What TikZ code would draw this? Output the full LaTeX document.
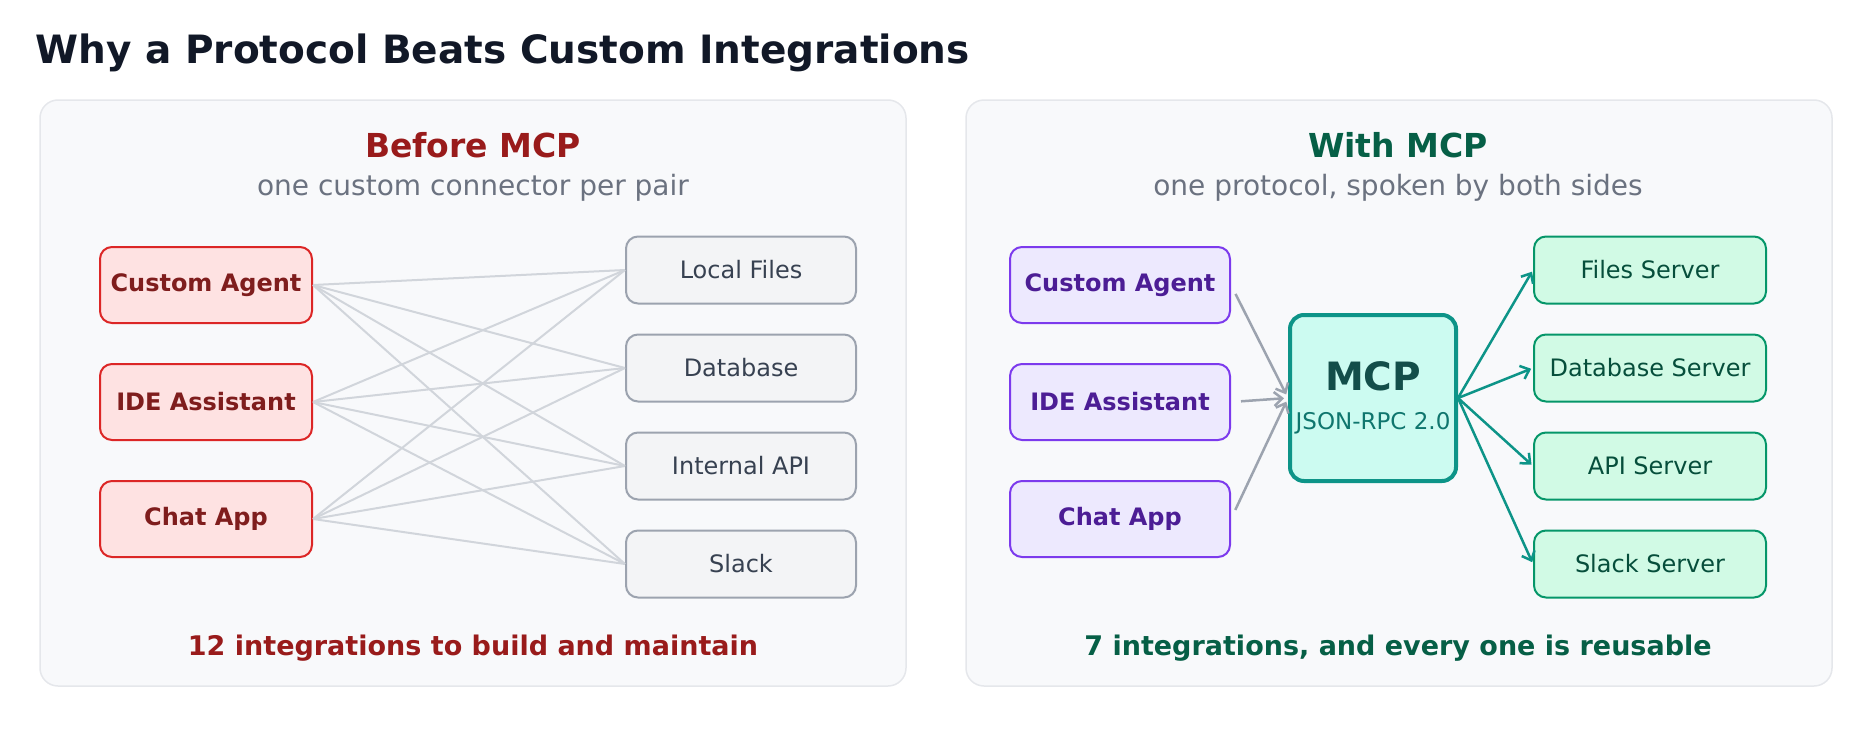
\documentclass[tikz,border=0pt]{standalone}
\usepackage{fontspec}
\setmainfont{DejaVu Sans}
\usetikzlibrary{arrows.meta,positioning}

\definecolor{panelbg}{HTML}{F8F9FB}
\definecolor{panelln}{HTML}{E5E7EB}
\definecolor{redtitle}{HTML}{991B1B}
\definecolor{greentitle}{HTML}{065F46}
\definecolor{subgray}{HTML}{6B7280}
\definecolor{wire}{HTML}{D1D5DB}
\definecolor{arrgray}{HTML}{9CA3AF}
\definecolor{teal}{HTML}{0D9488}

\tikzset{
  panel/.style={draw=panelln, fill=panelbg, line width=1.5pt, rounded corners=18pt},
  box/.style={rounded corners=12pt, line width=2pt, minimum height=67pt, font=\fontsize{24}{28}\selectfont},
  app/.style={box, draw={rgb,255:red,220;green,38;blue,38},
    fill={rgb,255:red,254;green,226;blue,226}, text={rgb,255:red,127;green,29;blue,29},
    minimum width=212pt, minimum height=76pt, font=\fontsize{24}{28}\selectfont\bfseries},
  tool/.style={box, draw=arrgray, fill={rgb,255:red,243;green,244;blue,246},
    text={rgb,255:red,55;green,65;blue,81}, minimum width=230pt},
  client/.style={app, draw={rgb,255:red,124;green,58;blue,237},
    fill={rgb,255:red,237;green,233;blue,254}, text={rgb,255:red,76;green,29;blue,149}, minimum width=220pt},
  server/.style={box, draw={rgb,255:red,5;green,150;blue,105},
    fill={rgb,255:red,209;green,250;blue,229}, text={rgb,255:red,6;green,78;blue,59}, minimum width=232pt},
  head/.style={font=\fontsize{33}{38}\selectfont\bfseries},
  sub/.style={text=subgray, font=\fontsize{28}{32}\selectfont},
  foot/.style={font=\fontsize{27}{31}\selectfont\bfseries},
  link/.style={draw=wire, line width=2pt},
  feed/.style={draw=arrgray, line width=2.5pt, -{Straight Barb[length=8pt,width=14pt]}},
  serve/.style={draw=teal, line width=2.5pt, -{Straight Barb[length=8pt,width=14pt]}}
}

\begin{document}
\begin{tikzpicture}[x=1pt,y=-1pt]
\useasboundingbox (0,0) rectangle (1870,736);
\node[anchor=base west, font=\fontsize{39}{44}\selectfont\bfseries, text={rgb,255:red,17;green,24;blue,39}]
  (title) at (32,63) {Why a Protocol Beats Custom Integrations};

% panels
\draw[panel] (40,100) rectangle (906,686);
\draw[panel] (966,100) rectangle (1832,686);

% before
\node[head, text=redtitle] (h1) at (473,145) {Before MCP};
\node[sub] (s1) at (473,188) {one custom connector per pair};
\node[app] (a1) at (206,285) {Custom Agent};
\node[app] (a2) at (206,402) {IDE Assistant};
\node[app] (a3) at (206,519) {Chat App};
\node[tool] (t1) at (741,270) {Local Files};
\node[tool] (t2) at (741,368) {Database};
\node[tool] (t3) at (741,466) {Internal API};
\node[tool] (t4) at (741,564) {Slack};
\foreach \a in {a1,a2,a3}
  \foreach \t in {t1,t2,t3,t4}
    \draw[link] (\a.east) -- (\t.west);
\node[foot, text=redtitle] (f1) at (473,648) {12 integrations to build and maintain};

% with
\node[head, text=greentitle] (h2) at (1398,145) {With MCP};
\node[sub] (s2) at (1398,188) {one protocol, spoken by both sides};
\node[client] (c1) at (1120,285) {Custom Agent};
\node[client] (c2) at (1120,402) {IDE Assistant};
\node[client] (c3) at (1120,519) {Chat App};
\node[draw=teal, line width=4pt, rounded corners=14pt, fill={rgb,255:red,204;green,251;blue,241},
  minimum width=166pt, minimum height=166pt] (mcp) at (1373,398) {};
\node[font=\fontsize{39}{44}\selectfont\bfseries, text={rgb,255:red,19;green,78;blue,74}] (mcpt) at (1373,376) {MCP};
\node[font=\fontsize{23}{27}\selectfont, text={rgb,255:red,15;green,118;blue,110}] (mcps) at (1373,423) {JSON-RPC 2.0};
\node[server] (v1) at (1650,270) {Files Server};
\node[server] (v2) at (1650,368) {Database Server};
\node[server] (v3) at (1650,466) {API Server};
\node[server] (v4) at (1650,564) {Slack Server};
\foreach \c in {c1,c2,c3}
  \draw[feed, shorten <=10pt, shorten >=4pt] (\c.east) -- (mcp.west);
\foreach \v in {v1,v2,v3,v4}
  \draw[serve, shorten >=2pt] (mcp.east) -- (\v.west);
\node[foot, text=greentitle] (f2) at (1398,648) {7 integrations, and every one is reusable};
\end{tikzpicture}
\end{document}
